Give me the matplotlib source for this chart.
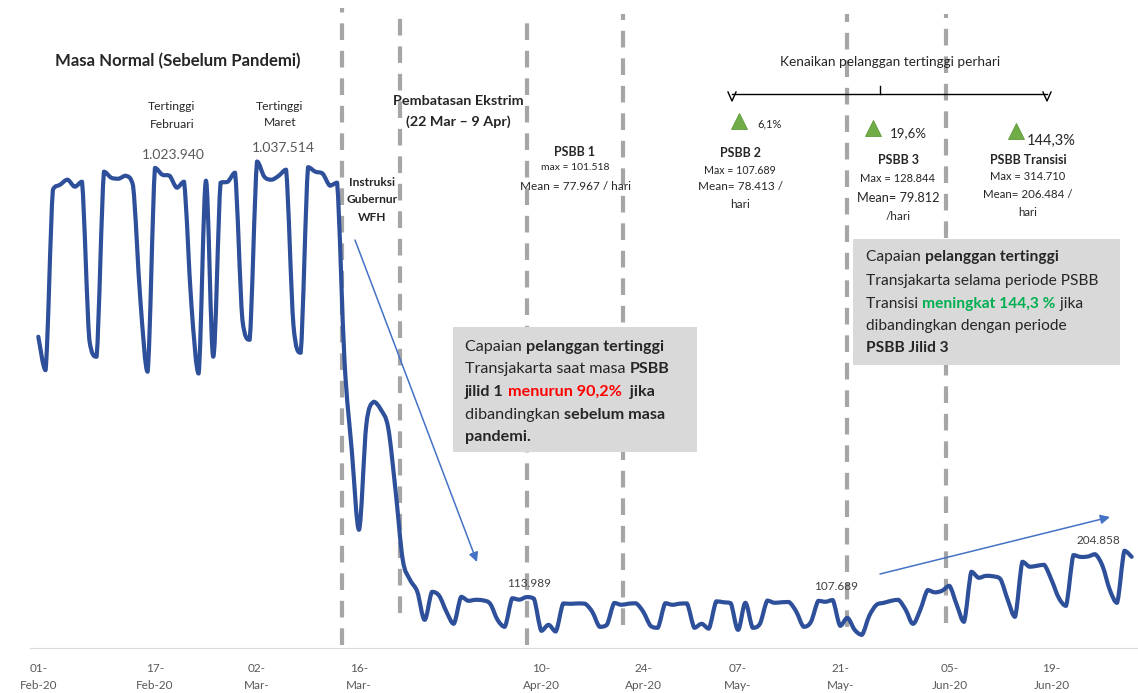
import numpy as np
import pandas as pd
import matplotlib
matplotlib.use('Agg')
import matplotlib.pyplot as plt
from matplotlib.path import Path
from matplotlib.patches import PathPatch, Rectangle
from matplotlib.text import Annotation

plt.rcParams['font.family'] = ['Lato', 'DejaVu Sans']

# Data pelanggan harian Transjakarta, mulai 01-Feb-2020
tanggal_awal = '2020-02-01'
pelanggan = [
    666000, 595000, 977800, 988400, 999000, 984100, 994700,        # 01-07 Feb
    659600, 623600, 1016000, 1003200, 1001000, 1007500, 986300,    # 08-14 Feb
    744500, 591800, 1023940, 1009600, 1007500, 982000, 994700,     # 15-21 Feb
    735000, 588000, 996900, 623600, 992600, 994700, 1013800,       # 22-28 Feb
    702000, 659600, 1037514, 1005400, 999000, 1007500, 1020200,    # 29 Feb-06 Mar
    691400, 632100, 1025500, 1016000, 1012000, 986300, 992600,     # 07-13 Mar
    617200, 426300, 256600, 479300, 528100, 511200, 473000,        # 14-20 Mar
    341500, 193000, 150600, 125100, 65800, 125100, 116700,         # 21-27 Mar
    82700, 57300, 114500, 106000, 108200, 107000, 99700,           # 28 Mar-03 Apr
    65800, 50900, 111500, 108500, 113989, 110500, 42400,           # 04-10 Apr
    55100, 41000, 100500, 99700, 100500, 100000, 82700,            # 11-17 Apr
    50900, 55100, 101518, 97600, 100000, 100800, 82700,            # 18-24 Apr
    53000, 48800, 101000, 97600, 100000, 100500, 48800,            # 25 Apr-01 May
    57300, 47000, 105000, 103000, 101000, 44500, 101800,           # 02-08 May
    48800, 57300, 106500, 101800, 103000, 103500, 82700,           # 09-15 May
    50900, 61500, 106000, 104000, 107689, 53000, 70000,            # 16-22 May
    44500, 33900, 74200, 97600, 101800, 106000, 108200,            # 23-29 May
    87000, 57300, 87000, 128844, 124000, 127500, 137900,           # 30 May-05 Jun
    97600, 61500, 167600, 154800, 159000, 158000, 152000,          # 06-12 Jun
    108200, 72100, 188800, 178200, 180300, 182400, 150600,         # 13-19 Jun
    112400, 95400, 203000, 199000, 200000, 204858, 180000,         # 20-26 Jun
    129400, 101800, 212100, 199400,                                # 27-30 Jun
]

tick_tanggal = ['2020-02-01', '2020-02-17', '2020-03-02', '2020-03-16', '2020-04-10',
                '2020-04-24', '2020-05-07', '2020-05-21', '2020-06-05', '2020-06-19']
tick_label = ['01-\nFeb-20', '17-\nFeb-20', '02-\nMar-', '16-\nMar-', '10-\nApr-20',
              '24-\nApr-20', '07-\nMay-', '21-\nMay-', '05-\nJun-20', '19-\nJun-20']

# batas periode (hari sejak 01 Feb)
batas_periode = [41.6, 49.6, 67.1, 80.2, 111.0, 124.5]

# titik yang diberi label angka
label_titik = ['2020-04-08', '2020-05-20', '2020-06-25']
puncak_titik = ['2020-02-17', '2020-03-02']

W, H = 1138, 693
BLUE = '#2E509B'
TXT = '#262626'


def fx(x):
    return x / W


def fy(y):
    return 1 - y / H


def hari(t):
    return (pd.Timestamp(t) - pd.Timestamp(tanggal_awal)).days


def smooth_path(x, y):
    # kurva bezier melewati setiap titik, titik kontrol dibatasi agar tidak melampaui
    verts = [(x[0], y[0])]
    codes = [Path.MOVETO]
    n = len(x)
    for i in range(n - 1):
        x0, y0 = x[max(i - 1, 0)], y[max(i - 1, 0)]
        x1, y1 = x[i], y[i]
        x2, y2 = x[i + 1], y[i + 1]
        x3, y3 = x[min(i + 2, n - 1)], y[min(i + 2, n - 1)]
        lo, hi = min(y1, y2), max(y1, y2)
        c1 = np.clip(y1 + (y2 - y0) / 6, lo, hi)
        c2 = np.clip(y2 - (y3 - y1) / 6, lo, hi)
        verts += [(x1 + (x2 - x0) / 6, c1), (x2 - (x3 - x1) / 6, c2), (x2, y2)]
        codes += [Path.CURVE4] * 3
    return Path(verts, codes)


fig = plt.figure(figsize=(W / 100, H / 100), dpi=100)
ax = fig.add_axes([30 / W, 45 / H, 1108 / W, 648 / H])
ax.set_xlim(-1.14, 150.87)
ax.set_ylim(6000, 1380000)

x = np.arange(len(pelanggan))
y = np.array(pelanggan, dtype=float)

# Garis putus-putus pembatas periode
tops = [0.988, 0.978, 0.978, 0.978, 0.978, 0.978]
bottoms = [0.005, 0.054, 0.005, 0.035, 0.032, 0.039]
for b, y0, y1 in zip(batas_periode, bottoms, tops):
    ax.axvline(b, ymin=y0, ymax=y1, color='#A6A6A6', lw=3, dashes=(4, 2.6), zorder=1)

ax.add_patch(PathPatch(smooth_path(x, y), fill=False, edgecolor=BLUE, lw=3,
                       capstyle='round', joinstyle='round', zorder=3))

# Sumbu
for s in ['top', 'right', 'left']:
    ax.spines[s].set_visible(False)
ax.spines['bottom'].set_color('#D9D9D9')
ax.set_yticks([])
ax.set_xticks([hari(t) for t in tick_tanggal])
ax.set_xticklabels(tick_label, fontsize=8.5, color='#595959', linespacing=1.75)
ax.tick_params(axis='x', length=0, pad=10.5)

# Label angka pada titik
for t in label_titik:
    d = hari(t)
    ax.annotate(f'{pelanggan[d]:,}'.replace(',', '.'), xy=(d, pelanggan[d]), xytext=(2, 10),
                textcoords='offset points', ha='center', va='center', fontsize=8.5,
                color='#404040', zorder=5)
for t, dx in zip(puncak_titik, [18, 26]):
    d = hari(t)
    ax.annotate(f'{pelanggan[d]:,}'.replace(',', '.'), xy=(d, pelanggan[d]), xytext=(dx * 0.72, 9.5),
                textcoords='offset points', ha='center', va='center', fontsize=10,
                color='#595959', zorder=5)


def teks(x, y, s, size=8, bold=False, color=TXT, ha='center'):
    ax.text(fx(x), fy(y), s, transform=fig.transFigure, fontsize=size, ha=ha, va='center',
            fontweight='bold' if bold else 'normal', color=color, zorder=6, clip_on=False)


teks(55, 61, 'Masa Normal (Sebelum Pandemi)', 12.1, True, ha='left')
teks(172, 107, 'Tertinggi', 8.7)
teks(172, 124, 'Februari', 8.7)
teks(280, 106, 'Tertinggi', 8.7)
teks(280, 122, 'Maret', 8.7)
teks(372, 182, 'Instruksi', 8.6, True)
teks(372, 200, 'Gubernur', 8.6, True)
teks(372, 218, 'WFH', 8.6, True)
teks(458, 101, 'Pembatasan Ekstrim', 10.4, True)
teks(458, 122, '(22 Mar \u2013 9 Apr)', 10.4, True)
teks(575, 152, 'PSBB 1', 9, True)
teks(575, 168, 'max = 101.518', 7.5)
teks(575, 186, 'Mean = 77.967 / hari', 8.5)
teks(890, 62, 'Kenaikan pelanggan tertinggi perhari', 9.8)
teks(770, 124, '6,1%', 8)
teks(908, 133, '19,6%', 9.5)
teks(1051, 141, '144,3%', 10.5)
teks(740, 153, 'PSBB 2', 9, True)
teks(740, 170, 'Max = 107.689', 7.7)
teks(740, 187, 'Mean= 78.413 /', 8.5)
teks(740, 205, 'hari', 8.5)
teks(898, 160, 'PSBB 3', 9, True)
teks(898, 179, 'Max = 128.844', 8)
teks(898, 198, 'Mean= 79.812', 9.2)
teks(898, 216, '/hari', 8.5)
teks(1028, 160, 'PSBB Transisi', 9, True)
teks(1028, 177, 'Max = 314.710', 8)
teks(1028, 195, 'Mean= 206.484 /', 8.3)
teks(1028, 212, 'hari', 8.3)

# Kurung kurawal horizontal
kw = dict(transform=fig.transFigure, color='black', lw=1, clip_on=False, zorder=6)
ax.plot([fx(732), fx(1047)], [fy(94), fy(94)], **kw)
ax.plot([fx(880), fx(880)], [fy(86), fy(94)], **kw)
for xe in [732, 1047]:
    ax.plot([fx(xe - 4), fx(xe), fx(xe + 4)], [fy(92), fy(101), fy(92)], **kw)

# Segitiga hijau
for xt, yt in [(739, 121), (873, 128), (1016, 131)]:
    ax.plot([fx(xt)], [fy(yt)], marker='^', ms=11.5, color='#70AD47', mec='#5E9A3A', mew=0.6,
            transform=fig.transFigure, clip_on=False, zorder=6)

# Panah
for (x0, y0), (x1, y1) in [((355, 240), (477, 562)), ((880, 574), (1110, 517))]:
    ax.annotate('', xy=(fx(x1), fy(y1)), xytext=(fx(x0), fy(y0)), xycoords='figure fraction',
                textcoords='figure fraction',
                arrowprops=dict(arrowstyle='-|>', color='#4472C4', lw=1.1, mutation_scale=14,
                                shrinkA=0, shrinkB=0), zorder=4)

# Kotak keterangan
for (x0, y0, x1, y1) in [(453, 327, 697, 452), (853, 239, 1120, 365)]:
    ax.add_patch(Rectangle((fx(x0), fy(y1)), fx(x1) - fx(x0), fy(y0) - fy(y1),
                           transform=fig.transFigure, facecolor='#D9D9D9', edgecolor='none',
                           zorder=5, clip_on=False))


def baris(x, y, parts, size=10.5):
    prev = None
    for s, bold, color in parts:
        w = 'bold' if bold else 'normal'
        if prev is None:
            prev = ax.text(fx(x), fy(y), s, transform=fig.transFigure, fontsize=size,
                           fontweight=w, color=color, ha='left', va='center', zorder=6,
                           clip_on=False)
        else:
            a = Annotation(s, xy=(1, 0), xycoords=prev, xytext=(0, 0),
                           textcoords='offset points', fontsize=size, fontweight=w,
                           color=color, ha='left', va='bottom', zorder=6,
                           annotation_clip=False)
            ax.add_artist(a)
            prev = a


RED = '#FF0000'
GREEN = '#00B050'
kiri = 11.6
baris(465, 347, [('Capaian ', False, TXT), ('pelanggan tertinggi', True, TXT)], kiri)
baris(465, 369, [('Transjakarta saat masa ', False, TXT), ('PSBB', True, TXT)], kiri)
baris(465, 392, [('jilid 1 ', True, TXT), ('menurun 90,2%', True, RED), ('  jika', True, TXT)], kiri)
baris(465, 415, [('dibandingkan ', False, TXT), ('sebelum masa', True, TXT)], kiri)
baris(465, 437, [('pandemi.', True, TXT)], kiri)

kanan = 11.2
baris(866, 257, [('Capaian ', False, TXT), ('pelanggan tertinggi', True, TXT)], kanan)
baris(866, 281, [('Transjakarta selama periode PSBB', False, TXT)], kanan)
baris(866, 304, [('Transisi ', False, TXT), ('meningkat 144,3 %', True, GREEN), (' jika', False, TXT)], kanan)
baris(866, 326, [('dibandingkan dengan periode', False, TXT)], kanan)
baris(866, 348, [('PSBB Jilid 3', True, TXT)], kanan)

fig.savefig('out.png', dpi=100)
